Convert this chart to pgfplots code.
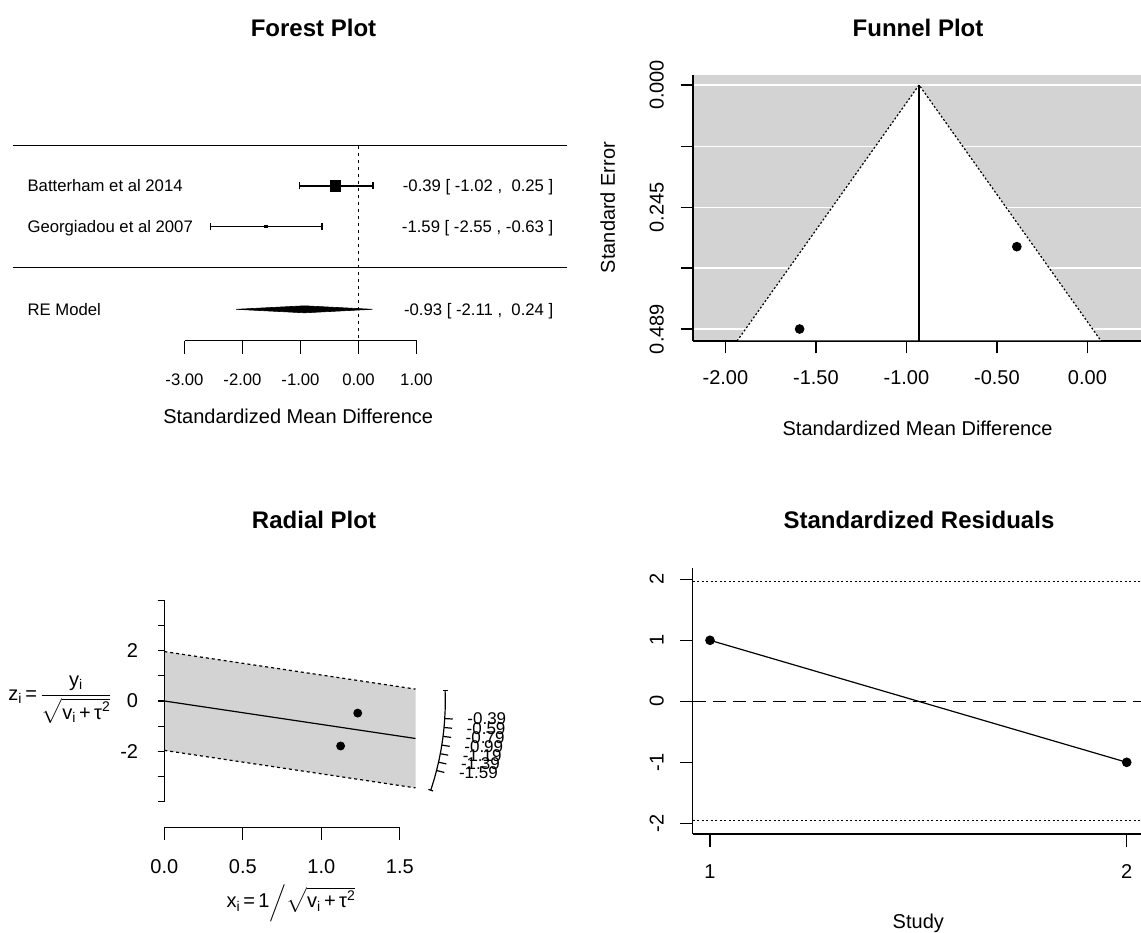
\RequirePackage{fix-cm}
\documentclass[border=0pt]{standalone}
\usepackage{amsmath}
\usepackage{pgfplots}
\pgfplotsset{compat=1.18}
\usepackage{fontspec}
\setmainfont{Liberation Sans}
\definecolor{rgray}{RGB}{211,211,211}
\newcommand{\fsz}[1]{\fontsize{#1}{#1}\selectfont}
\pgfplotsset{
  rstyle/.style={
    scale only axis, clip=false, anchor=south west,
    axis line style={-, line width=1.2pt, black},
    every tick/.style={black, line width=1.2pt},
    tick align=outside,
    cycle list={{black,solid,mark=none}},
    every axis plot/.append style={line width=1.2pt, black},
    tick label style={font=\fsz{20}, inner sep=0pt},
    /pgf/number format/assume math mode=true,
  },
}
\begin{document}
\begin{tikzpicture}[x=1pt,y=1pt]
\path[use as bounding box] (0,0) rectangle (1141,933);

% ---------------- titles ----------------
\node[anchor=base, font=\fsz{24}\bfseries, inner sep=0pt] at (313.5,896.4) {Forest Plot};
\node[anchor=base, font=\fsz{24}\bfseries, inner sep=0pt] at (918,896.4) {Funnel Plot};
\node[anchor=base, font=\fsz{24}\bfseries, inner sep=0pt] at (314,404.4) {Radial Plot};
\node[anchor=base, font=\fsz{24}\bfseries, inner sep=0pt] at (919,404.4) {Standardized Residuals};

% ---------------- forest plot ----------------
\begin{axis}[rstyle, at={(13pt,592.3pt)}, width=554pt, height=215.75pt,
  xmin=-5.957, xmax=3.595, ymin=-1.801, ymax=3.5,
  axis x line*=bottom, axis y line=none, axis line style={draw=none},
  xtick={-3,-2,-1,0,1}, xticklabels={-3.00,-2.00,-1.00,0.00,1.00}, ytick=\empty,
  major tick length=13.5pt,
  xticklabel style={font=\fsz{16.7}, anchor=center, yshift=-25.8pt},
]
\addplot coordinates {(-5.957,3) (3.595,3)};
\addplot coordinates {(-5.957,0) (3.595,0)};
\addplot coordinates {(-3,-1.801) (1,-1.801)};
\addplot[dash pattern=on 2.5pt off 4.5pt] coordinates {(0,2.98) (0,-1.76)};
\addplot coordinates {(-1.02,2) (0.25,2)};
\addplot coordinates {(-1.02,1.914) (-1.02,2.086)};
\addplot coordinates {(0.25,1.914) (0.25,2.086)};
\addplot coordinates {(-2.55,1) (-0.63,1)};
\addplot coordinates {(-2.55,0.914) (-2.55,1.086)};
\addplot coordinates {(-0.63,0.914) (-0.63,1.086)};
\addplot[only marks, mark=square*, mark size=5pt] coordinates {(-0.39,2)};
\addplot[only marks, mark=square*, mark size=1.2pt] coordinates {(-1.59,1)};
\addplot[fill=black, line width=0.6pt] coordinates {(-2.11,-1.03) (-0.93,-0.944) (0.24,-1.03) (-0.93,-1.116)} -- cycle;
\node[anchor=base west, inner sep=0pt, font=\fsz{16.7}, yshift=-6pt] at (axis cs:-5.709,2) {Batterham et al 2014};
\node[anchor=base west, inner sep=0pt, font=\fsz{16.7}, yshift=-6pt] at (axis cs:-5.709,1) {Georgiadou et al 2007};
\node[anchor=base west, inner sep=0pt, font=\fsz{16.7}, yshift=-6pt] at (axis cs:-5.709,-1.03) {RE Model};
\node[anchor=base east, inner sep=0pt, font=\fsz{16.7}, yshift=-6pt] at (axis cs:3.362,2) {-0.39 [ -1.02 ,\ \ 0.25 ]};
\node[anchor=base east, inner sep=0pt, font=\fsz{16.7}, yshift=-6pt] at (axis cs:3.362,1) {-1.59 [ -2.55 , -0.63 ]};
\node[anchor=base east, inner sep=0pt, font=\fsz{16.7}, yshift=-6pt] at (axis cs:3.362,-1.03) {-0.93 [ -2.11 ,\ \ 0.24 ]};
\end{axis}
\node[anchor=base, font=\fsz{20}, inner sep=0pt] at (298.2,509.8) {Standardized Mean Difference};

% ---------------- funnel plot ----------------
\begin{axis}[rstyle, at={(693pt,592pt)}, width=448pt, height=266pt,
  xmin=-2.179, xmax=0.296, ymin=-0.02, ymax=0.513, y dir=reverse,
  axis x line*=bottom, axis y line*=left,
  axis background/.style={fill=rgray},
  ymajorgrids, grid style={white, line width=1.2pt},
  major tick length=12.5pt,
  xtick={-2,-1.5,-1,-0.5,0}, xticklabels={-2.00,-1.50,-1.00,-0.50,0.00},
  ytick={0,0.1225,0.245,0.3668,0.489}, yticklabels={0.000,,0.245,,0.489},
  xticklabel style={anchor=center, yshift=-24.5pt},
  yticklabel style={anchor=center, xshift=-23.7pt, rotate=90},
]
\addplot[fill=white, draw=none] coordinates {(-0.93,0) (-1.9355,0.5118) (0.0755,0.5118)} -- cycle;
\addplot[dash pattern=on 2pt off 2pt] coordinates {(-1.9355,0.513) (-0.93,0) (0.0755,0.513)};
\addplot coordinates {(-0.93,0) (-0.93,0.513)};
\addplot[only marks, mark=*, mark size=4.2pt] coordinates {(-0.39,0.324) (-1.59,0.489)};
\end{axis}
\node[anchor=base, font=\fsz{20}, inner sep=0pt] at (917.5,497.8) {Standardized Mean Difference};
\node[anchor=base, rotate=90, font=\fsz{20}, inner sep=0pt] at (614.8,725.5) {Standard Error};

% ---------------- radial plot ----------------
\begin{axis}[rstyle, at={(164.3pt,105.3pt)}, width=251.2pt, height=227.5pt,
  xmin=0, xmax=1.6, ymin=-5.028, ymax=4,
  axis x line*=bottom, axis y line*=left, axis line style={draw=none},
  xtick={0,0.5,1,1.5}, xticklabels={0.0,0.5,1.0,1.5}, ytick=\empty,
  major tick length=12.3pt,
  xticklabel style={anchor=center, yshift=-26.7pt},
]
\addplot[fill=rgray, draw=none] coordinates {(0,1.96) (1.6,0.472) (1.6,-3.448) (0,-1.96)} -- cycle;
\addplot coordinates {(0,-5.028) (1.5,-5.028)};
\addplot coordinates {(0,-4) (0,4)};
\addplot[dash pattern=on 3pt off 3pt] coordinates {(0,1.96) (1.6,0.472)};
\addplot[dash pattern=on 3pt off 3pt] coordinates {(0,-1.96) (1.6,-3.448)};
\addplot coordinates {(0,0) (1.6,-1.488)};
\addplot[only marks, mark=*, mark size=3.8pt] coordinates {(1.232,-0.48) (1.123,-1.786)};
% arc
\addplot coordinates {(1.7886,0.4087) (1.7898,0) (1.7887,-0.3892) (1.7854,-0.7778) (1.7800,-1.1656) (1.7724,-1.5518) (1.7626,-1.9363) (1.7507,-2.3184) (1.7366,-2.6976) (1.7205,-3.0735) (1.7022,-3.4457) (1.6973,-3.5382)};
\addplot coordinates {(1.7726,0.4087) (1.8046,0.4087)};
\addplot coordinates {(1.6822,-3.5067) (1.7124,-3.5697)};
\addplot coordinates {(1.7863,-0.6964) (1.8372,-0.7162)};
\addplot coordinates {(1.7818,-1.0516) (1.8325,-1.0815)};
\addplot coordinates {(1.7758,-1.4048) (1.8264,-1.4448)};
\addplot coordinates {(1.7675,-1.7500) (1.8178,-1.7998)};
\addplot coordinates {(1.7580,-2.0913) (1.8081,-2.1508)};
\addplot coordinates {(1.7468,-2.4286) (1.7965,-2.4977)};
\addplot coordinates {(1.7344,-2.7579) (1.7838,-2.8364)};
\node[anchor=west, inner sep=0pt, font=\fsz{17}, xshift=14.5pt] at (axis cs:1.8372,-0.7162) {-0.39};
\node[anchor=west, inner sep=0pt, font=\fsz{17}, xshift=14.5pt] at (axis cs:1.8325,-1.0815) {-0.59};
\node[anchor=west, inner sep=0pt, font=\fsz{17}, xshift=14.5pt] at (axis cs:1.8264,-1.4448) {-0.79};
\node[anchor=west, inner sep=0pt, font=\fsz{17}, xshift=14.5pt] at (axis cs:1.8178,-1.7998) {-0.99};
\node[anchor=west, inner sep=0pt, font=\fsz{17}, xshift=14.5pt] at (axis cs:1.8081,-2.1508) {-1.19};
\node[anchor=west, inner sep=0pt, font=\fsz{17}, xshift=14.5pt] at (axis cs:1.7965,-2.4977) {-1.39};
\node[anchor=west, inner sep=0pt, font=\fsz{17}, xshift=14.5pt] at (axis cs:1.7838,-2.8364) {-1.59};
\end{axis}
\begin{axis}[rstyle, at={(164.3pt,105.3pt)}, width=251.2pt, height=227.5pt,
  xmin=0, xmax=1.6, ymin=-5.028, ymax=4,
  axis x line*=bottom, axis y line*=left, axis line style={draw=none},
  xtick=\empty, ytick={-4,-3,-2,-1,0,1,2,3,4}, yticklabels={,,-2,,0,,2,,},
  major tick length=6.7pt,
  yticklabel style={anchor=east, xshift=-19.3pt},
]
\addplot[draw=none] coordinates {(0,0)};
\end{axis}
\node[font=\fsz{20}, inner sep=0pt] at (60,233) {z\textsubscript{i}\,=\,$\dfrac{\mbox{y\textsubscript{i}}}{\sqrt{\mbox{v\textsubscript{i}\,+\,τ\textsuperscript{2}}}}$};
\node[font=\fsz{20}, inner sep=0pt] at (291.5,30) {x\textsubscript{i}\,=\,1$\left/\sqrt{\mbox{v\textsubscript{i}\,+\,τ\textsuperscript{2}}}\right.$};

% ---------------- residual plot ----------------
\begin{axis}[rstyle, at={(692.7pt,99pt)}, width=448.3pt, height=265.7pt,
  xmin=0.9585, xmax=2.0343, ymin=-2.175, ymax=2.18,
  axis x line*=bottom, axis y line*=left,
  xtick={1,2}, xticklabels={1,2},
  ytick={-2,-1,0,1,2}, yticklabels={-2,-1,0,1,2},
  major tick length=12.7pt,
  xticklabel style={anchor=center, yshift=-25pt},
  yticklabel style={anchor=center, xshift=-23.3pt, rotate=90},
]
\addplot[dash pattern=on 2pt off 2.5pt] coordinates {(0.9585,1.96) (2.0343,1.96)};
\addplot[dash pattern=on 2pt off 2.5pt] coordinates {(0.9585,-1.96) (2.0343,-1.96)};
\addplot[dash pattern=on 13pt off 7pt] coordinates {(0.9585,0) (2.0343,0)};
\addplot[mark=*, mark size=4.2pt] coordinates {(1,1.0) (2,-1.0)};
\end{axis}
\node[anchor=base, font=\fsz{20}, inner sep=0pt] at (918.3,4) {Study};
\end{tikzpicture}
\end{document}
